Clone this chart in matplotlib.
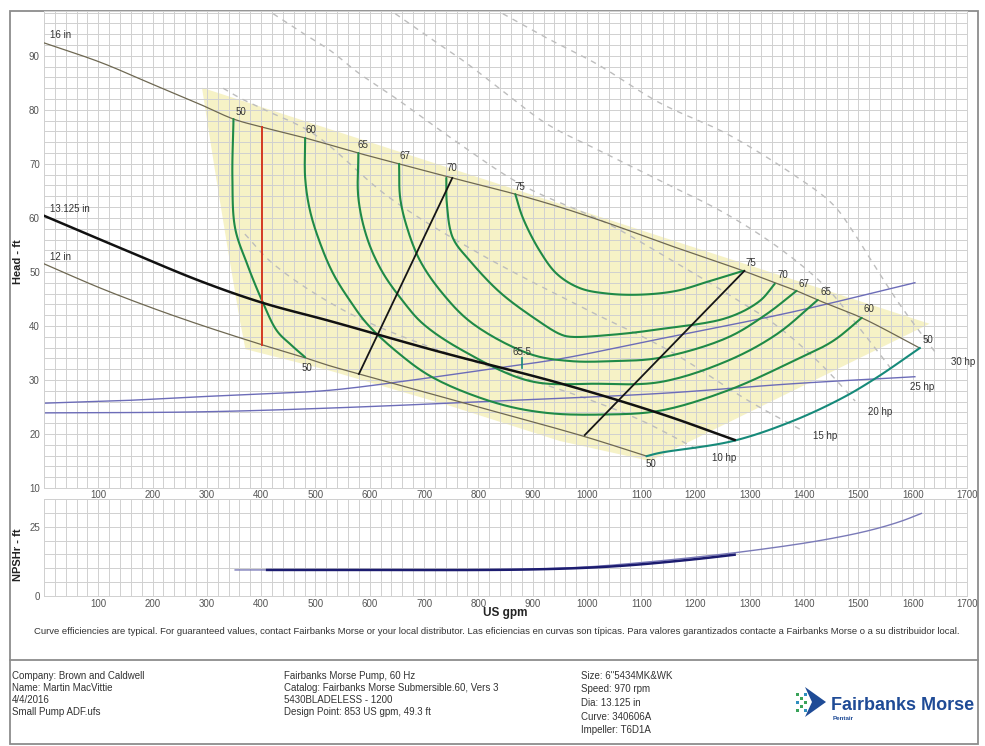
import numpy as np
import matplotlib
matplotlib.use("Agg")
import matplotlib.pyplot as plt
from matplotlib.patches import Polygon, Rectangle

plt.rcParams['font.family'] = ['Liberation Sans', 'DejaVu Sans']

# ---------------- head-capacity data (US gpm, ft) ----------------
dia16_q = [0, 104, 196, 288, 349, 402, 481, 579, 654, 752, 868, 950, 1037, 1150, 1288, 1346, 1386, 1425, 1506, 1613]
dia16_h = [92.4, 88.8, 84.9, 81.0, 78.3, 76.8, 74.8, 72.0, 70.0, 67.4, 64.4, 62.0, 59.1, 55.0, 50.2, 48.0, 46.5, 44.8, 41.5, 35.9]

dia13_q = [0, 153, 288, 402, 527, 729, 950, 1134, 1272]
dia13_h = [60.4, 53.9, 48.3, 44.3, 40.9, 35.2, 29.4, 23.8, 18.9]

dia12_q = [0, 104, 200, 288, 402, 481, 527, 581, 800, 993, 1110]
dia12_h = [51.5, 47.0, 43.3, 40.2, 36.5, 34.1, 32.6, 31.1, 25.0, 19.6, 15.9]

# iso-efficiency curves
eff50a_q = [349, 347, 352, 374, 402, 429, 455, 481]
eff50a_h = [78.3, 67.4, 58.1, 51.5, 44.6, 39.1, 36.5, 34.2]
eff50b_q = [1110, 1134, 1269, 1379, 1471, 1533, 1613]
eff50b_h = [15.9, 16.5, 18.7, 22.4, 26.7, 30.4, 35.9]
eff60_q = [481, 481, 490, 509, 533, 564, 595, 650, 717, 834, 926, 1030, 1134, 1258, 1380, 1453, 1506]
eff60_h = [74.8, 67.4, 61.3, 55.2, 49.6, 44.6, 40.4, 35.2, 30.4, 25.7, 23.9, 23.6, 24.3, 28.0, 33.5, 37.2, 41.5]
eff65_q = [579, 579, 595, 622, 661, 698, 772, 895, 1018, 1134, 1258, 1350, 1425]
eff65_h = [72.0, 63.7, 56.3, 50.2, 44.6, 40.4, 35.4, 29.8, 29.3, 29.6, 33.5, 38.5, 44.8]
eff67_q = [654, 656, 669, 693, 735, 790, 895, 969, 1050, 1134, 1258, 1331, 1386]
eff67_h = [70.0, 63.7, 58.1, 52.0, 45.9, 40.4, 34.8, 33.5, 33.5, 34.1, 37.8, 42.2, 46.5]
eff70_q = [741, 742, 753, 785, 840, 905, 950, 969, 1050, 1134, 1258, 1318, 1346]
eff70_h = [67.4, 62.6, 56.3, 52.0, 46.2, 41.3, 38.5, 38.0, 38.4, 39.4, 41.5, 44.6, 47.8]
eff75_q = [868, 882, 913, 945, 987, 1037, 1100, 1165, 1226, 1288]
eff75_h = [64.4, 60.0, 53.9, 49.6, 47.0, 46.0, 45.8, 46.5, 48.3, 50.2]

# constant-power lines
hp10_q = [370, 422, 550, 700, 850, 1000, 1100, 1208]
hp10_h = [57.0, 51.5, 43.0, 36.5, 31.5, 26.5, 22.5, 16.9]
hp15_q = [330, 361, 411, 496, 637, 800, 1000, 1150, 1300, 1392]
hp15_h = [84.0, 82.2, 79.8, 75.6, 63.7, 53.5, 43.0, 35.5, 26.0, 20.9]
hp20_q = [422, 472, 527, 577, 650, 761, 882, 1037, 1150, 1250, 1350, 1430, 1494]
hp20_h = [97.8, 94.5, 91.0, 87.0, 82.0, 74.0, 66.0, 59.0, 52.5, 46.5, 40.0, 33.0, 26.1]
hp25_q = [647, 711, 772, 845, 926, 1024, 1134, 1257, 1361, 1442, 1502, 1563]
hp25_h = [97.8, 93.3, 89.1, 83.5, 77.4, 72.4, 66.9, 60.7, 53.9, 47.0, 39.6, 31.7]
hp30_q = [845, 926, 1018, 1134, 1257, 1379, 1453, 1490, 1515, 1576, 1644]
hp30_h = [97.8, 93.3, 88.5, 81.3, 75.6, 68.1, 62.5, 57.5, 53.5, 44.0, 34.8]
hp_labels = ["10 hp", "15 hp", "20 hp", "25 hp", "30 hp"]
hp_label_q = [1252, 1438, 1540, 1618, 1692]
hp_label_h = [15.6, 19.6, 24.1, 28.7, 33.3]

# system curves
sys_hi_q = [0, 150, 288, 400, 527, 680, 834, 950, 1134, 1379, 1604]
sys_hi_h = [25.7, 26.2, 26.9, 27.4, 28.1, 30.0, 32.2, 33.9, 37.6, 42.6, 48.0]
sys_lo_q = [0, 288, 527, 834, 1134, 1379, 1604]
sys_lo_h = [23.9, 24.1, 24.8, 26.1, 27.5, 29.3, 30.6]

# operating-limit lines and duty flow
lim1_q = [580, 752]
lim1_h = [31.1, 67.4]
lim2_q = [996, 1290]
lim2_h = [19.8, 50.2]
duty_q = [402, 402]
duty_h = [36.5, 76.8]

# preferred operating region outline
por_q = [291, 1631, 1116, 950, 748, 527, 371, 361, 339, 315]
por_h = [84.1, 40.4, 15.0, 18.7, 25.2, 31.7, 35.7, 40.9, 53.9, 68.7]

# efficiency labels
eff_lbl_text = ["50", "60", "65", "67", "70", "75", "75", "70", "67", "65", "60", "50", "50", "50"]
eff_lbl_q = [363, 492, 588, 665, 752, 877, 1302, 1361, 1399, 1441, 1519, 1628, 485, 1118]
eff_lbl_h = [79.6, 76.3, 73.5, 71.5, 69.3, 65.7, 51.7, 49.4, 47.8, 46.3, 43.1, 37.4, 32.2, 14.4]

# NPSHr data
npsh_max_q = [352, 600, 800, 900, 1000, 1085, 1200, 1300, 1423, 1515, 1576, 1616]
npsh_max_h = [9.4, 9.4, 9.5, 9.7, 10.5, 11.8, 14.0, 16.3, 19.8, 23.4, 26.8, 29.8]
npsh_dia_q = [411, 600, 800, 900, 1000, 1085, 1200, 1272]
npsh_dia_h = [9.4, 9.4, 9.4, 9.6, 10.2, 11.2, 13.3, 14.9]

x_ticks = list(range(100, 1800, 100))
head_ticks = [10, 20, 30, 40, 50, 60, 70, 80, 90]
npsh_ticks = [0, 25]

W, H = 985, 746
fig = plt.figure(figsize=(W / 100, H / 100), dpi=100)


def fx(px):
    return px / W


def fy(py):
    return 1 - py / H


def smooth(q, h, n=14, alpha=0.5):
    """Centripetal Catmull-Rom curve through the points (scaled to screen aspect)."""
    P = np.column_stack([np.asarray(q, float) * 0.5433, np.asarray(h, float) * 5.4])
    if len(P) < 3:
        return np.asarray(q, float), np.asarray(h, float)
    P = np.vstack([2 * P[0] - P[1], P, 2 * P[-1] - P[-2]])
    out = []
    for i in range(1, len(P) - 2):
        p0, p1, p2, p3 = P[i - 1], P[i], P[i + 1], P[i + 2]
        t0 = 0.0
        t1 = t0 + max(np.linalg.norm(p1 - p0), 1e-6) ** alpha
        t2 = t1 + max(np.linalg.norm(p2 - p1), 1e-6) ** alpha
        t3 = t2 + max(np.linalg.norm(p3 - p2), 1e-6) ** alpha
        t = np.linspace(t1, t2, n, endpoint=False)[:, None]
        A1 = (t1 - t) / (t1 - t0) * p0 + (t - t0) / (t1 - t0) * p1
        A2 = (t2 - t) / (t2 - t1) * p1 + (t - t1) / (t2 - t1) * p2
        A3 = (t3 - t) / (t3 - t2) * p2 + (t - t2) / (t3 - t2) * p3
        B1 = (t2 - t) / (t2 - t0) * A1 + (t - t0) / (t2 - t0) * A2
        B2 = (t3 - t) / (t3 - t1) * A2 + (t - t1) / (t3 - t1) * A3
        out.append((t2 - t) / (t2 - t1) * B1 + (t - t1) / (t2 - t1) * B2)
    out.append(P[-2][None, :])
    C = np.vstack(out)
    return C[:, 0] / 0.5433, C[:, 1] / 5.4


# ---------------- frame / overlay ----------------
ov = fig.add_axes([0, 0, 1, 1])
ov.set_xlim(0, W)
ov.set_ylim(H, 0)
ov.axis('off')
ov.patch.set_visible(False)
ov.set_zorder(-5)
border = '#8c8c8c'
ov.add_patch(Rectangle((10, 11), 968, 733, fill=False, ec=border, lw=1.3))
ov.plot([10, 978], [660, 660], color=border, lw=1.3)

GRID = '#d0d0d0'
TXT = '#333333'

# ---------------- head axes ----------------
ax = fig.add_axes([fx(44), fy(488), fx(967) - fx(44), fy(11) - fy(488)])
ax.set_xlim(0, 1700)
ax.set_ylim(10, 98.3)
ax.set_axisbelow(True)
ax.set_xticks(x_ticks)
ax.set_xticks(np.arange(0, 1701, 20), minor=True)
ax.set_yticks(head_ticks)
ax.set_yticks(np.arange(10, 99, 2), minor=True)
ax.grid(which='both', color=GRID, lw=0.7)
ax.tick_params(which='both', length=0)
ax.tick_params(axis='x', pad=1.5, labelsize=7, labelcolor='#555555')
ax.tick_params(axis='y', pad=3, labelsize=7, labelcolor='#555555')
for s in ax.spines.values():
    s.set_color(GRID)
    s.set_linewidth(0.7)

ax.add_patch(Polygon(np.column_stack([por_q, por_h]), closed=True,
                     fc='#f6f2c6', ec='none', zorder=0.2))

for q, h in [(hp10_q, hp10_h), (hp15_q, hp15_h), (hp20_q, hp20_h),
             (hp25_q, hp25_h), (hp30_q, hp30_h)]:
    xs, ys = smooth(q, h)
    ax.plot(xs, ys, color='#bdbdbd', lw=1.0, dashes=(4, 4), zorder=1)
for t, q, h in zip(hp_labels, hp_label_q, hp_label_h):
    ax.text(q, h, t, fontsize=7, color=TXT, ha='center', va='center')

for q, h in [(sys_hi_q, sys_hi_h), (sys_lo_q, sys_lo_h)]:
    xs, ys = smooth(q, h)
    ax.plot(xs, ys, color='#6c6cb8', lw=1.0, zorder=2)

for q, h in [(dia16_q, dia16_h), (dia12_q, dia12_h)]:
    xs, ys = smooth(q, h)
    ax.plot(xs, ys, color='#6e6852', lw=0.9, zorder=3)

GREEN = '#1f8a47'
for q, h in [(eff50a_q, eff50a_h), (eff60_q, eff60_h), (eff65_q, eff65_h),
             (eff67_q, eff67_h), (eff70_q, eff70_h), (eff75_q, eff75_h)]:
    xs, ys = smooth(q, h)
    ax.plot(xs, ys, color=GREEN, lw=1.5, zorder=4, solid_capstyle='round')
xs, ys = smooth(eff50b_q, eff50b_h)
ax.plot(xs, ys, color='#168a7a', lw=1.5, zorder=4)

ax.plot(duty_q, duty_h, color='#d43a22', lw=1.4, zorder=5)
ax.plot(lim1_q, lim1_h, color='#151515', lw=1.3, zorder=5)
ax.plot(lim2_q, lim2_h, color='#151515', lw=1.3, zorder=5)

xs, ys = smooth(dia13_q, dia13_h)
ax.plot(xs, ys, color='#111111', lw=1.8, zorder=6)

for t, q, h in zip(eff_lbl_text, eff_lbl_q, eff_lbl_h):
    ax.text(q, h, t, fontsize=7, color=TXT, ha='center', va='center', zorder=7)

# efficiency at the design diameter
ax.plot([880, 880], [32.3, 34.0], color='#168a7a', lw=1.2, zorder=7)
ax.text(880, 35.2, "65.5", fontsize=7, color=TXT, ha='center', va='center', zorder=7)

ax.text(11, 93.9, "16 in", fontsize=7, color=TXT, ha='left', va='center')
ax.text(11, 61.6, "13.125 in", fontsize=7, color=TXT, ha='left', va='center')
ax.text(11, 52.7, "12 in", fontsize=7, color=TXT, ha='left', va='center')

# ---------------- NPSHr axes ----------------
ax2 = fig.add_axes([fx(44), fy(596), fx(967) - fx(44), fy(499) - fy(596)])
ax2.set_xlim(0, 1700)
ax2.set_ylim(0, 35)
ax2.set_axisbelow(True)
ax2.set_xticks(x_ticks)
ax2.set_xticks(np.arange(0, 1701, 20), minor=True)
ax2.set_yticks(npsh_ticks)
ax2.set_yticks(np.arange(0, 36, 5), minor=True)
ax2.grid(which='both', color=GRID, lw=0.7)
ax2.tick_params(which='both', length=0)
ax2.tick_params(axis='x', pad=2, labelsize=7, labelcolor='#555555')
ax2.tick_params(axis='y', pad=3, labelsize=7, labelcolor='#555555')
for s in ax2.spines.values():
    s.set_color(GRID)
    s.set_linewidth(0.7)

xs, ys = smooth(npsh_max_q, npsh_max_h)
ax2.plot(xs, ys, color='#7a7ab8', lw=1.0, zorder=3)
xs, ys = smooth(npsh_dia_q, npsh_dia_h)
ax2.plot(xs, ys, color='#1c1c70', lw=1.8, zorder=4)

# ---------------- axis titles ----------------
fig.text(fx(18), fy(262), "Head - ft", rotation=90, fontsize=8, fontweight='bold',
         color='#222222', ha='center', va='center')
fig.text(fx(18), fy(555), "NPSHr - ft", rotation=90, fontsize=8, fontweight='bold',
         color='#222222', ha='center', va='center')
fig.text(fx(505), fy(613), "US gpm", fontsize=8.5, fontweight='bold',
         color='#222222', ha='center', va='center')

# ---------------- notes and title block ----------------
fig.text(fx(497), fy(631),
         "Curve efficiencies are typical. For guaranteed values, contact Fairbanks Morse or your local "
         "distributor. Las eficiencias en curvas son típicas. Para valores garantizados contacte a "
         "Fairbanks Morse o a su distribuidor local.",
         fontsize=6.83, color=TXT, ha='center', va='center')

left_block = ["Company: Brown and Caldwell", "Name: Martin MacVittie", "4/4/2016", "Small Pump ADF.ufs"]
mid_block = ["Fairbanks Morse Pump, 60 Hz", "Catalog: Fairbanks Morse Submersible.60, Vers 3",
             "5430BLADELESS - 1200", "Design Point: 853 US gpm, 49.3 ft"]
right_block = ["Size: 6\"5434MK&WK", "Speed: 970 rpm", "Dia: 13.125 in", "Curve: 340606A",
               "Impeller: T6D1A"]
for i, t in enumerate(left_block):
    fig.text(fx(12), fy(676 + 12 * i), t, fontsize=7, color=TXT, ha='left', va='center')
for i, t in enumerate(mid_block):
    fig.text(fx(284), fy(676 + 12 * i), t, fontsize=7, color=TXT, ha='left', va='center')
for i, t in enumerate(right_block):
    fig.text(fx(581), fy(676 + 13.5 * i), t, fontsize=7, color=TXT, ha='left', va='center')

# logo
BLUE = '#1f4b96'
ov.add_patch(Polygon([(805, 687), (826, 702), (805, 717), (812, 702)], closed=True,
                     fc=BLUE, ec='none'))
for (cx, cy, c) in [(801, 698, '#3aa35a'), (805, 702, '#3aa35a'), (801, 706, '#3aa35a'),
                    (797, 702, '#2f8fc0'), (805, 694, '#2f8fc0'), (805, 710, '#2f8fc0'),
                    (797, 694, '#3aa35a'), (797, 710, '#3aa35a')]:
    ov.add_patch(Rectangle((cx - 1.5, cy - 1.5), 3.0, 3.0, fc=c, ec='none'))
fig.text(fx(831), fy(706), "Fairbanks Morse", fontsize=13, fontweight='bold', color=BLUE,
         ha='left', va='center')
fig.text(fx(833), fy(719), "Pentair", fontsize=4.5, fontweight='bold', color=BLUE,
         ha='left', va='center')

fig.savefig("out.png", dpi=100)
